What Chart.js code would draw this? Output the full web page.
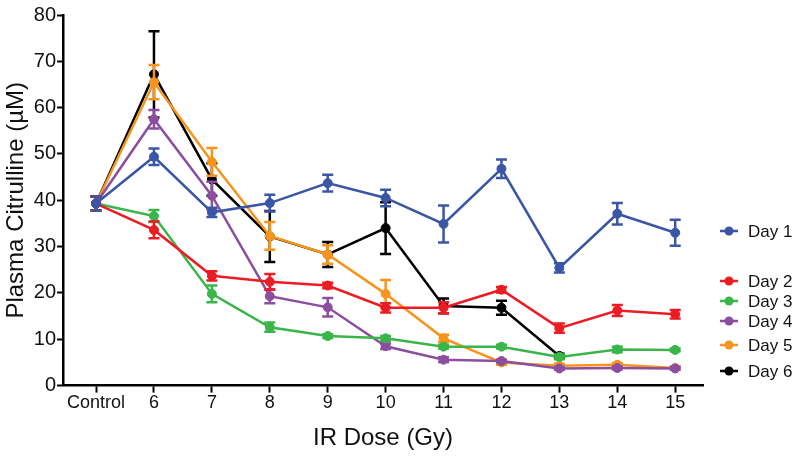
<!DOCTYPE html>
<html>
<head>
<meta charset="utf-8">
<script src="https://cdn.jsdelivr.net/npm/chart.js@4/dist/chart.umd.min.js"></script>
<style>
  html, body { margin: 0; padding: 0; background: #fff; }
  canvas { display: block; }
</style>
</head>
<body>
<canvas id="c" width="800" height="459"></canvas>
<script>
const categories = ['Control', '6', '7', '8', '9', '10', '11', '12', '13', '14', '15'];
const seriesNames = ['Day 1', 'Day 2', 'Day 3', 'Day 4', 'Day 5', 'Day 6'];

const day1 = [39.3, 49.4, 37.4, 39.4, 43.7, 40.5, 34.9, 46.8, 25.4, 37.1, 33.0];
const day1Err = [1.5, 1.8, 1.0, 1.8, 1.8, 1.8, 4.0, 2.0, 1.0, 2.3, 2.8];
const day2 = [39.3, 33.6, 23.7, 22.4, 21.6, 16.8, 16.8, 20.7, 12.4, 16.2, 15.4];
const day2Err = [1.5, 1.8, 1.0, 1.7, 0.6, 1.0, 1.2, 0.6, 1.0, 1.2, 0.9];
const day3 = [39.3, 36.6, 19.8, 12.6, 10.7, 10.2, 8.4, 8.4, 6.2, 7.8, 7.7];
const day3Err = [1.5, 1.3, 1.8, 1.0, 0.4, 0.5, 0.4, 0.4, 0.5, 0.6, 0.3];
const day4 = [39.3, 57.5, 41.0, 19.3, 16.9, 8.5, 5.6, 5.3, 3.7, 3.8, 3.7];
const day4Err = [1.5, 2.0, 3.0, 1.5, 2.0, 0.6, 0.5, 0.3, 0.3, 0.3, 0.3];
const day5 = [39.3, 65.5, 48.3, 32.3, 28.3, 19.8, 10.2, 5.0, 4.3, 4.5, 3.8];
const day5Err = [1.5, 3.7, 3.0, 3.0, 2.0, 3.0, 0.8, 0.5, 0.4, 0.4, 0.3];
const day6 = [39.3, 67.2, 44.5, 32.2, 28.3, 34.0, 17.2, 16.8, 6.4, null, null];
const day6Err = [1.5, 9.3, 3.5, 5.5, 2.7, 5.6, 1.6, 1.5, 0.5, null, null];

const yTicks = [0, 10, 20, 30, 40, 50, 60, 70, 80];

const colors = ['#3A56A5', '#EC1C24', '#39B54A', '#8C4F9F', '#F7941D', '#000000'];
const values = [day1, day2, day3, day4, day5, day6];
const errors = [day1Err, day2Err, day3Err, day4Err, day5Err, day6Err];
const legendY = [231, 281, 301, 321, 345, 371];

const FONT = '"Liberation Sans", Arial, Helvetica, sans-serif';

const datasets = seriesNames.map((name, k) => ({
  label: name,
  data: values[k].map((v, i) => ({ x: i, y: v })),
  errors: errors[k],
  borderColor: colors[k],
  backgroundColor: colors[k],
  pointBackgroundColor: colors[k],
  pointBorderColor: colors[k],
  pointRadius: 4.5,
  pointBorderWidth: 1,
  borderWidth: 2.5,
  tension: 0,
  spanGaps: false
}));

const errorBarPlugin = {
  id: 'errorBars',
  beforeDatasetDraw(chart, args) {
    const ds = chart.data.datasets[args.index];
    const meta = args.meta;
    const ys = chart.scales.y;
    const ctx = chart.ctx;
    ctx.save();
    ctx.strokeStyle = ds.borderColor;
    ctx.lineWidth = 2.5;
    ctx.lineCap = 'butt';
    meta.data.forEach((pt, i) => {
      const v = ds.data[i].y;
      const e = ds.errors[i];
      if (v === null || e === null || e === undefined) return;
      const x = pt.x;
      const top = ys.getPixelForValue(v + e);
      const bot = ys.getPixelForValue(v - e);
      const half = 5.5;
      ctx.beginPath();
      ctx.moveTo(x, top); ctx.lineTo(x, bot);
      ctx.moveTo(x - half, top); ctx.lineTo(x + half, top);
      ctx.moveTo(x - half, bot); ctx.lineTo(x + half, bot);
      ctx.stroke();
    });
    ctx.restore();
  }
};

const legendPlugin = {
  id: 'sideLegend',
  afterDraw(chart) {
    const ctx = chart.ctx;
    ctx.save();
    chart.data.datasets.forEach((ds, k) => {
      const y = legendY[k];
      ctx.strokeStyle = ds.borderColor;
      ctx.fillStyle = ds.borderColor;
      ctx.lineWidth = 2.5;
      ctx.beginPath();
      ctx.moveTo(720, y); ctx.lineTo(738, y);
      ctx.stroke();
      ctx.beginPath();
      ctx.arc(729, y, 4.5, 0, Math.PI * 2);
      ctx.fill();
      ctx.fillStyle = '#111';
      ctx.font = '17px ' + FONT;
      ctx.textBaseline = 'middle';
      ctx.textAlign = 'left';
      ctx.fillText(ds.label, 748, y + 1);
    });
    ctx.restore();
  }
};

new Chart(document.getElementById('c'), {
  type: 'line',
  data: { datasets },
  options: {
    responsive: false,
    animation: false,
    devicePixelRatio: 1,
    layout: { padding: { top: 15, right: 97, bottom: 6, left: 2 } },
    plugins: {
      legend: { display: false },
      tooltip: { enabled: false }
    },
    scales: {
      x: {
        type: 'linear',
        min: -0.57,
        max: 10.48,
        afterBuildTicks(scale) {
          scale.ticks = categories.map((c, i) => ({ value: i }));
        },
        ticks: {
          autoSkip: false,
          maxRotation: 0,
          padding: 0,
          color: '#111',
          font: { family: FONT, size: 18 },
          callback: (v) => categories[v]
        },
        grid: {
          display: true,
          drawOnChartArea: false,
          drawTicks: true,
          tickLength: 7,
          tickWidth: 2,
          tickColor: '#000'
        },
        border: { display: true, color: '#000', width: 2.5 },
        title: {
          display: true,
          text: 'IR Dose (Gy)',
          color: '#111',
          font: { family: FONT, size: 24 },
          padding: { top: 10, bottom: 0 }
        }
      },
      y: {
        type: 'linear',
        min: 0,
        max: 80,
        afterBuildTicks(scale) {
          scale.ticks = yTicks.map(v => ({ value: v }));
        },
        ticks: {
          padding: 1,
          color: '#111',
          font: { family: FONT, size: 20 }
        },
        grid: {
          display: true,
          drawOnChartArea: false,
          drawTicks: true,
          tickLength: 6,
          tickWidth: 2,
          tickColor: '#000'
        },
        border: { display: true, color: '#000', width: 2.5 },
        title: {
          display: true,
          text: 'Plasma Citrulline (µM)',
          color: '#111',
          font: { family: FONT, size: 24, lineHeight: 1.2 },
          padding: { top: 0, bottom: 2 }
        }
      }
    }
  },
  plugins: [errorBarPlugin, legendPlugin]
});
</script>
</body>
</html>
